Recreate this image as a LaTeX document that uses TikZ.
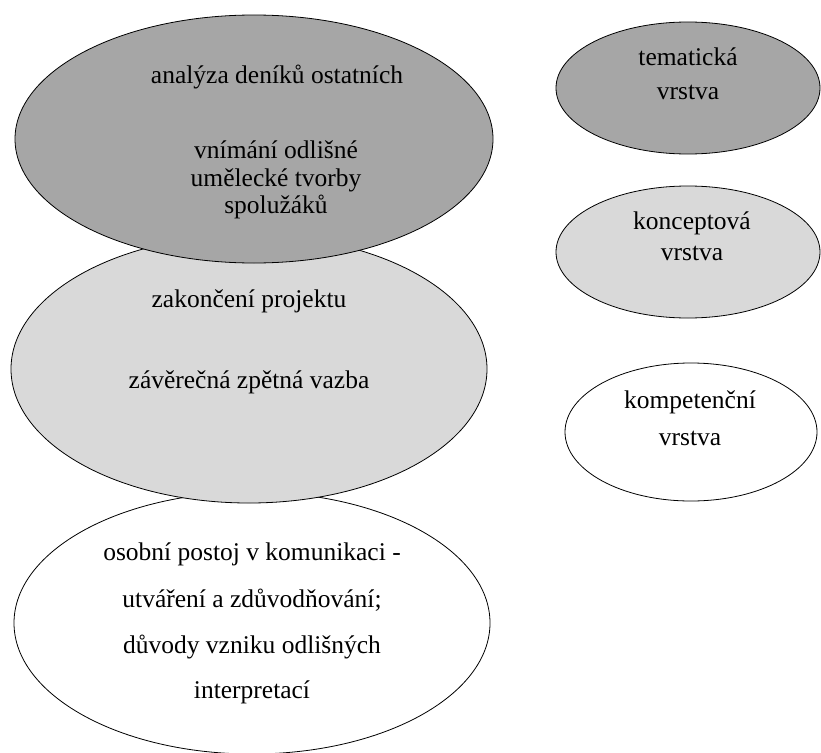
\documentclass[tikz,border=0pt]{standalone}
\usepackage{fontspec}
\setmainfont{Liberation Serif}
\newfontfamily\pismo{Liberation Serif}
\usetikzlibrary{shapes.geometric}
\tikzset{
  vrstva/.style={ellipse,draw=black,line width=0.8pt,inner sep=0pt},
  radek/.style={anchor=base,inner sep=0pt,font=\pismo\fontsize{25.5}{30}\selectfont}
}
\definecolor{tmavaseda}{RGB}{166,166,166}
\definecolor{svetlaseda}{RGB}{217,217,217}

\begin{document}
\begin{tikzpicture}[x=1pt,y=-1pt]
\useasboundingbox (0,0) rectangle (821,752);
\clip (0,0) rectangle (821,752);
\node[vrstva,fill=white,minimum width=476pt,minimum height=262pt] (kompetL) at (252,623) {};
\node[vrstva,fill=svetlaseda,minimum width=476pt,minimum height=268pt] (konceptL) at (249,369) {};
\node[vrstva,fill=tmavaseda,minimum width=478pt,minimum height=248pt] (temaL) at (254,139) {};
\node[vrstva,fill=tmavaseda,minimum width=264pt,minimum height=132pt] (temaR) at (688,88) {};
\node[vrstva,fill=svetlaseda,minimum width=264pt,minimum height=132pt] (konceptR) at (688,252) {};
\node[vrstva,fill=white,minimum width=252pt,minimum height=138pt] (kompetR) at (691,432) {};
\node[radek] (t1) at (277,83) {analýza deníků ostatních};
\node[radek] (t2) at (276,158) {vnímání odlišné};
\node[radek] (t3) at (276,186) {umělecké tvorby};
\node[radek] (t4) at (276,213) {spolužáků};
\node[radek] (k1) at (249,307) {zakončení projektu};
\node[radek] (k2) at (249,388) {závěrečná zpětná vazba};
\node[radek] (o1) at (252,560) {osobní postoj v komunikaci -};
\node[radek] (o2) at (252,607) {utváření a zdůvodňování;};
\node[radek] (o3) at (252,653) {důvody vzniku odlišných};
\node[radek] (o4) at (252,698) {interpretací};
\node[radek] (r1) at (688,66) {tematická};
\node[radek] (r2) at (688,99) {vrstva};
\node[radek] (r3) at (692,229) {konceptová};
\node[radek] (r4) at (692,260) {vrstva};
\node[radek] (r5) at (690,408) {kompetenční};
\node[radek] (r6) at (690,445) {vrstva};
\end{tikzpicture}
\end{document}
